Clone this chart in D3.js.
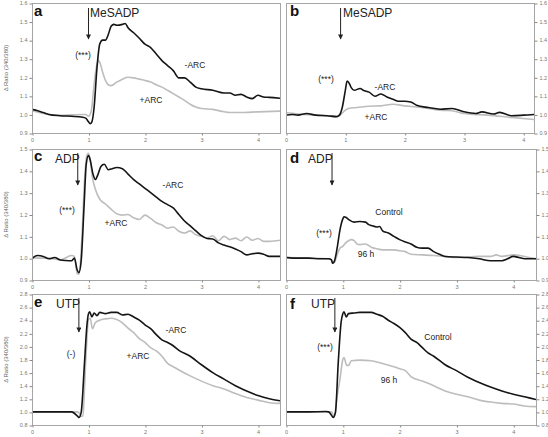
<!DOCTYPE html>
<html><head><meta charset="utf-8">
<script src="https://cdn.jsdelivr.net/npm/d3@7"></script>
<style>
html,body{margin:0;padding:0;background:#fff;}
svg{display:block;font-family:"Liberation Sans",Arial,sans-serif;}
</style></head>
<body><svg id="c" width="548" height="437"></svg>
<script>
// ---------- DATA ----------
const ticksSmall = [0.9,1.0,1.1,1.2,1.3,1.4,1.5,1.6];
const ticksMid = [0.9,1.0,1.1,1.2,1.3,1.4,1.5];
const ticksBig = [0.8,1.0,1.2,1.4,1.6,1.8,2.0,2.2,2.4,2.6,2.8];
const xTicks = [0,1,2,3,4];

const aMinus = [[0,1.027],[0.1,1.02],[0.2,1.01],[0.3,1.0],[0.5,0.993],[0.7,0.99],[0.9,0.985],[0.95,0.98],[1.0,0.96],[1.03,0.95],[1.06,0.96],[1.1,1.04],[1.15,1.25],[1.2,1.38],[1.25,1.40],[1.3,1.40],[1.35,1.43],[1.4,1.475],[1.45,1.485],[1.5,1.48],[1.6,1.485],[1.65,1.49],[1.7,1.467],[1.8,1.44],[1.9,1.41],[2.0,1.378],[2.1,1.36],[2.2,1.325],[2.3,1.29],[2.4,1.263],[2.5,1.236],[2.6,1.197],[2.7,1.197],[2.8,1.174],[2.9,1.147],[3.0,1.138],[3.2,1.13],[3.4,1.115],[3.5,1.115],[3.6,1.103],[3.7,1.108],[3.8,1.094],[3.9,1.085],[4.0,1.103],[4.1,1.094],[4.2,1.092],[4.39,1.087]];
const aPlus = [[0,1.02],[0.3,1.0],[0.5,0.995],[0.9,1.0],[0.95,1.0],[1.0,0.99],[1.05,1.02],[1.1,1.165],[1.15,1.27],[1.18,1.29],[1.2,1.28],[1.25,1.228],[1.3,1.183],[1.35,1.16],[1.4,1.155],[1.5,1.174],[1.6,1.19],[1.7,1.2],[1.8,1.197],[1.9,1.19],[2.0,1.183],[2.1,1.174],[2.2,1.16],[2.3,1.147],[2.4,1.13],[2.5,1.112],[2.6,1.094],[2.7,1.076],[2.8,1.055],[2.9,1.04],[3.0,1.032],[3.2,1.027],[3.4,1.014],[3.5,1.01],[3.7,1.01],[4.0,1.014],[4.39,1.018]];

const bMinus = [[0,0.996],[0.1,1.0],[0.2,0.996],[0.35,1.005],[0.5,0.996],[0.7,0.993],[0.85,0.988],[0.9,0.996],[0.95,1.04],[1.0,1.13],[1.03,1.18],[1.07,1.165],[1.1,1.144],[1.15,1.13],[1.25,1.14],[1.3,1.13],[1.4,1.12],[1.5,1.098],[1.6,1.11],[1.7,1.094],[1.8,1.082],[1.9,1.071],[2.0,1.071],[2.1,1.067],[2.2,1.05],[2.4,1.037],[2.6,1.028],[2.8,1.032],[3.0,1.014],[3.2,1.005],[3.3,1.014],[3.5,1.002],[3.6,1.011],[3.8,0.993],[4.0,0.996],[4.18,1.0]];
const bPlus = [[0,1.01],[0.3,1.0],[0.6,0.995],[0.85,0.988],[0.9,0.993],[1.0,1.023],[1.05,1.032],[1.2,1.037],[1.4,1.044],[1.6,1.046],[1.8,1.055],[2.0,1.046],[2.2,1.04],[2.4,1.032],[2.6,1.023],[2.8,1.02],[3.0,1.005],[3.4,0.996],[3.8,0.984],[4.18,0.973]];

const cMinus = [[0,0.997],[0.05,1.008],[0.1,1.012],[0.2,1.008],[0.3,0.997],[0.4,1.003],[0.5,0.992],[0.6,0.989],[0.7,0.988],[0.75,1.0],[0.8,0.946],[0.83,0.934],[0.87,0.985],[0.92,1.23],[0.96,1.43],[1.0,1.47],[1.03,1.45],[1.08,1.385],[1.12,1.36],[1.17,1.385],[1.22,1.42],[1.28,1.43],[1.35,1.405],[1.42,1.41],[1.5,1.415],[1.6,1.41],[1.7,1.385],[1.8,1.36],[1.9,1.34],[2.0,1.32],[2.1,1.3],[2.2,1.28],[2.3,1.26],[2.4,1.245],[2.5,1.23],[2.6,1.2],[2.7,1.17],[2.8,1.148],[2.9,1.125],[3.0,1.103],[3.1,1.09],[3.2,1.088],[3.3,1.07],[3.4,1.06],[3.5,1.052],[3.6,1.042],[3.7,1.03],[3.8,1.015],[3.9,1.02],[4.0,1.023],[4.1,1.018],[4.2,1.008],[4.39,1.008]];
const cPlus = [[0,1.003],[0.1,1.0],[0.3,1.0],[0.5,0.992],[0.7,1.012],[0.75,1.008],[0.8,0.93],[0.83,0.926],[0.88,1.077],[0.93,1.355],[0.97,1.47],[1.0,1.48],[1.03,1.45],[1.07,1.37],[1.12,1.317],[1.2,1.27],[1.3,1.248],[1.4,1.225],[1.5,1.203],[1.6,1.197],[1.7,1.2],[1.8,1.185],[1.9,1.177],[2.0,1.197],[2.1,1.182],[2.2,1.162],[2.3,1.152],[2.4,1.137],[2.5,1.143],[2.6,1.123],[2.7,1.115],[2.8,1.125],[2.9,1.107],[3.0,1.1],[3.1,1.092],[3.2,1.103],[3.3,1.08],[3.4,1.1],[3.5,1.085],[3.6,1.092],[3.7,1.08],[3.8,1.097],[3.9,1.082],[4.0,1.09],[4.1,1.077],[4.2,1.077],[4.39,1.082]];

const dControl = [[0,1.003],[0.2,1.0],[0.4,1.0],[0.6,0.997],[0.75,0.997],[0.8,0.992],[0.82,0.977],[0.85,0.985],[0.9,1.046],[0.95,1.13],[1.0,1.18],[1.02,1.19],[1.06,1.186],[1.1,1.178],[1.2,1.165],[1.3,1.168],[1.4,1.165],[1.45,1.155],[1.5,1.15],[1.6,1.143],[1.65,1.145],[1.7,1.125],[1.8,1.115],[1.9,1.1],[2.0,1.085],[2.1,1.074],[2.2,1.065],[2.3,1.05],[2.4,1.046],[2.5,1.046],[2.6,1.03],[2.7,1.018],[2.8,1.008],[3.0,1.005],[3.2,1.003],[3.4,0.997],[3.6,0.988],[3.8,0.988],[3.9,0.997],[4.0,1.008],[4.1,1.003],[4.2,0.997],[4.4,0.997]];
const d96h = [[0,1.003],[0.4,1.0],[0.75,0.997],[0.8,0.992],[0.82,0.977],[0.85,0.98],[0.9,1.015],[0.95,1.046],[1.0,1.054],[1.05,1.07],[1.1,1.08],[1.15,1.085],[1.2,1.08],[1.25,1.065],[1.3,1.062],[1.4,1.065],[1.5,1.05],[1.6,1.043],[1.7,1.038],[1.8,1.038],[1.9,1.038],[2.0,1.034],[2.1,1.03],[2.2,1.018],[2.4,1.015],[2.6,1.012],[2.8,1.008],[3.0,1.003],[3.4,1.008],[3.6,1.008],[3.7,1.015],[3.8,1.008],[4.0,1.015],[4.2,1.008],[4.4,0.997]];

const eMinus = [[0,1.0],[0.5,1.0],[0.7,1.0],[0.8,0.94],[0.83,0.915],[0.87,0.99],[0.93,1.76],[0.97,2.3],[1.0,2.5],[1.02,2.53],[1.06,2.45],[1.1,2.51],[1.15,2.47],[1.2,2.52],[1.3,2.5],[1.4,2.52],[1.5,2.52],[1.6,2.48],[1.7,2.49],[1.8,2.45],[1.9,2.4],[2.0,2.33],[2.1,2.27],[2.2,2.18],[2.3,2.1],[2.4,2.06],[2.5,2.01],[2.6,1.94],[2.8,1.85],[3.0,1.72],[3.2,1.6],[3.4,1.5],[3.6,1.4],[3.8,1.32],[4.0,1.25],[4.2,1.2],[4.39,1.17]];
const ePlus = [[0,1.0],[0.5,1.0],[0.8,1.0],[0.83,0.99],[0.87,0.93],[0.9,0.94],[0.95,1.76],[1.0,2.41],[1.03,2.43],[1.07,2.27],[1.12,2.36],[1.2,2.4],[1.3,2.42],[1.4,2.43],[1.5,2.41],[1.6,2.36],[1.7,2.28],[1.8,2.21],[1.9,2.12],[2.0,2.06],[2.1,1.98],[2.2,1.93],[2.3,1.85],[2.4,1.74],[2.5,1.69],[2.6,1.64],[2.8,1.55],[3.0,1.47],[3.2,1.4],[3.4,1.35],[3.6,1.28],[3.8,1.22],[4.0,1.18],[4.2,1.14],[4.39,1.13]];

const fControl = [[0,1.0],[0.4,1.0],[0.7,1.005],[0.75,1.0],[0.8,0.95],[0.83,0.915],[0.87,0.99],[0.92,1.76],[0.97,2.37],[1.0,2.5],[1.02,2.53],[1.06,2.45],[1.1,2.5],[1.2,2.51],[1.3,2.52],[1.4,2.52],[1.5,2.52],[1.6,2.49],[1.7,2.46],[1.8,2.4],[1.9,2.35],[2.0,2.29],[2.1,2.21],[2.2,2.11],[2.3,2.06],[2.4,1.98],[2.5,1.9],[2.6,1.85],[2.8,1.72],[3.0,1.63],[3.2,1.53],[3.4,1.45],[3.6,1.38],[3.8,1.32],[4.0,1.27],[4.2,1.23],[4.4,1.19]];
const f96h = [[0,1.0],[0.8,1.0],[0.85,0.93],[0.9,1.24],[0.95,1.5],[1.0,1.8],[1.02,1.83],[1.07,1.71],[1.1,1.71],[1.15,1.78],[1.3,1.79],[1.5,1.78],[1.7,1.74],[1.9,1.69],[2.0,1.66],[2.1,1.63],[2.2,1.54],[2.4,1.47],[2.6,1.4],[2.8,1.32],[3.0,1.27],[3.2,1.23],[3.4,1.18],[3.6,1.15],[3.8,1.13],[4.0,1.12],[4.2,1.09],[4.4,1.08]];

// ---------- LAYOUT ----------
const panels = [
  {id:"a", L:32, R:280, T:3, B:133, xMax:4.39, y:[0.9,1.6], yt:ticksSmall, side:"left",
   series:[aPlus,aMinus], agonist:"MeSADP", agX:90, agY:17, arrowX:1.0, arrowTop:8, arrowBot:39, letterX:34, letterY:16,
   labels:[{t:"(***)",x:83,y:58},{t:"-ARC",x:195,y:68},{t:"+ARC",x:151,y:103}]},
  {id:"b", L:286, R:534, T:3, B:133, xMax:4.18, y:[0.9,1.6], yt:ticksSmall, side:"right",
   series:[bPlus,bMinus], agonist:"MeSADP", agX:343, agY:17, arrowX:0.92, arrowTop:8, arrowBot:39, letterX:290, letterY:16,
   labels:[{t:"(***)",x:326,y:82},{t:"-ARC",x:385,y:90},{t:"+ARC",x:376,y:120}]},
  {id:"c", L:32, R:280, T:149, B:280, xMax:4.39, y:[0.9,1.5], yt:ticksMid, side:"left",
   series:[cPlus,cMinus], agonist:"ADP", agX:55, agY:163, arrowX:0.81, arrowTop:153, arrowBot:185, letterX:34, letterY:161,
   labels:[{t:"(***)",x:67,y:213},{t:"-ARC",x:173,y:188},{t:"+ARC",x:116,y:226}]},
  {id:"d", L:286, R:536, T:149, B:280, xMax:4.4, y:[0.9,1.5], yt:ticksMid, side:"right",
   series:[d96h,dControl], agonist:"ADP", agX:308, agY:163, arrowX:0.81, arrowTop:153, arrowBot:185, letterX:290, letterY:163,
   labels:[{t:"(***)",x:324,y:236},{t:"Control",x:389,y:215},{t:"96 h",x:366,y:257}]},
  {id:"e", L:32, R:280, T:294, B:425, xMax:4.39, y:[0.8,2.8], yt:ticksBig, side:"left",
   series:[ePlus,eMinus], agonist:"UTP", agX:56, agY:308, arrowX:0.83, arrowTop:298, arrowBot:332, letterX:34, letterY:307,
   labels:[{t:"(-)",x:71,y:357},{t:"-ARC",x:176,y:333},{t:"+ARC",x:138,y:359}]},
  {id:"f", L:286, R:536, T:294, B:425, xMax:4.4, y:[0.8,2.8], yt:ticksBig, side:"right",
   series:[f96h,fControl], agonist:"UTP", agX:311, agY:308, arrowX:0.86, arrowTop:298, arrowBot:332, letterX:290, letterY:309,
   labels:[{t:"(***)",x:325,y:350},{t:"Control",x:438,y:340},{t:"96 h",x:389,y:383}]}
];

const svg = d3.select("#c");
svg.append("defs").append("marker")
  .attr("id","arr").attr("viewBox","0 0 10 10").attr("refX",9).attr("refY",5)
  .attr("markerWidth",6).attr("markerHeight",5).attr("markerUnits","userSpaceOnUse")
  .attr("orient","auto")
  .append("path").attr("d","M0,0 L10,5 L0,10 z").attr("fill","#222");

const frameCol = "#a6a6a6", tickTxt = "#777";
const lineColors = ["#bdbdbd","#151515"];

panels.forEach(p => {
  const x = d3.scaleLinear().domain([0,p.xMax]).range([p.L,p.R]);
  const y = d3.scaleLinear().domain(p.y).range([p.B,p.T]);
  const g = svg.append("g");

  g.append("rect").attr("x",p.L+0.5).attr("y",p.T+0.5).attr("width",p.R-p.L).attr("height",p.B-p.T)
    .attr("fill","none").attr("stroke",frameCol).attr("stroke-width",1);

  const xa = g.append("g").attr("transform",`translate(0,${p.B+0.5})`)
    .call(d3.axisBottom(x).tickValues(xTicks).tickSize(2).tickPadding(3).tickFormat(d3.format("d")));
  xa.select(".domain").remove();
  xa.selectAll("line").attr("stroke","#888").attr("transform","translate(0.5,0)");
  xa.selectAll("text").attr("fill",tickTxt).attr("font-size",5.5).attr("font-family","Liberation Sans, Arial");

  const fmt = d3.format(".1f");
  const yaxis = p.side==="left" ? d3.axisLeft(y) : d3.axisRight(y);
  const ya = g.append("g").attr("transform",`translate(${p.side==="left"?p.L+0.5:p.R+0.5},0)`)
    .call(yaxis.tickValues(p.yt).tickSize(3).tickPadding(2).tickFormat(fmt));
  ya.select(".domain").remove();
  ya.selectAll("line").attr("stroke","#888").attr("transform","translate(0,0.5)");
  ya.selectAll("text").attr("fill",tickTxt).attr("font-size",5.5).attr("font-family","Liberation Sans, Arial");

  if (p.side==="left") {
    g.append("text").attr("transform",`translate(8,${(p.T+p.B)/2}) rotate(-90)`)
      .attr("text-anchor","middle").attr("font-size",6).attr("fill","#666")
      .text("Δ Ratio (340/380)");
  }

  const line = d3.line().x(d=>x(d[0])).y(d=>y(d[1])).curve(d3.curveMonotoneX);
  const clipId = "clip"+p.id;
  svg.append("clipPath").attr("id",clipId).append("rect")
    .attr("x",p.L+1).attr("y",p.T+1).attr("width",p.R-p.L-1).attr("height",p.B-p.T-1);
  p.series.forEach((s,i) => {
    g.append("path").datum(s).attr("d",line).attr("fill","none")
      .attr("stroke",lineColors[i]).attr("stroke-width",1.6).attr("stroke-linejoin","round")
      .attr("clip-path",`url(#${clipId})`);
  });

  g.append("text").attr("x",p.letterX).attr("y",p.letterY).attr("font-size",15).attr("font-weight","bold")
    .attr("fill","#111").text(p.id);
  g.append("text").attr("x",p.agX).attr("y",p.agY).attr("font-size",12).attr("fill","#222").text(p.agonist);
  g.append("line").attr("x1",x(p.arrowX)).attr("x2",x(p.arrowX)).attr("y1",p.arrowTop).attr("y2",p.arrowBot)
    .attr("stroke","#222").attr("stroke-width",1).attr("marker-end","url(#arr)");
  p.labels.forEach(l => {
    g.append("text").attr("x",l.x).attr("y",l.y).attr("text-anchor","middle")
      .attr("font-size",8.5).attr("fill","#222").text(l.t);
  });
});
</script></body></html>
